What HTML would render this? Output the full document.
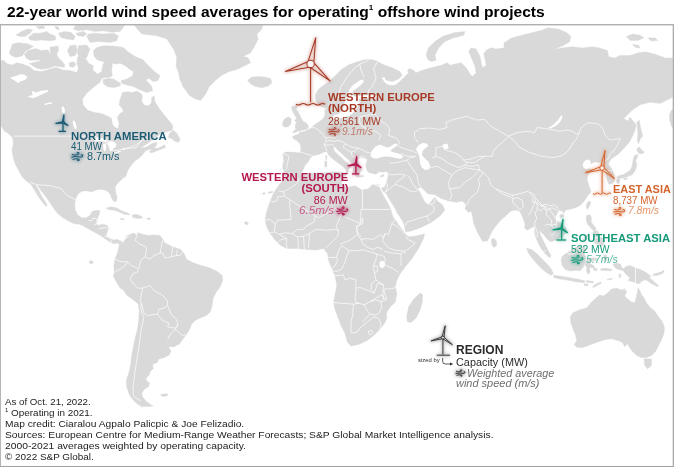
<!DOCTYPE html>
<html><head><meta charset="utf-8">
<style>
html,body{margin:0;padding:0;background:#fff;}
body{width:674px;height:467px;overflow:hidden;position:relative;font-family:"Liberation Sans",sans-serif;}
#title{position:absolute;left:6.9px;top:1.5px;font-size:15.5px;font-weight:bold;color:#000;white-space:nowrap;line-height:20px;transform-origin:0 0;transform:scaleX(1.0050);}
#title sup{font-size:8px;vertical-align:baseline;position:relative;top:-7px;line-height:0;}
svg{position:absolute;left:0;top:0;}
.t{position:absolute;white-space:nowrap;line-height:1;transform-origin:0 0;}
.r{transform-origin:100% 0;}
.b{font-weight:bold;}
.i{font-style:italic;}
.foot{position:absolute;left:5px;font-size:9.9px;color:#222;white-space:nowrap;line-height:1;transform-origin:0 0;}
</style></head><body>
<div id="title">22-year world wind speed averages for operating<sup>1</sup> offshore wind projects</div>
<svg width="674" height="467" viewBox="0 0 674 467">
<defs><clipPath id="c"><rect x="0.8" y="25.3" width="672" height="440.7"/></clipPath>
<filter id="glow" x="-50%" y="-50%" width="200%" height="200%"><feGaussianBlur stdDeviation="1.6"/></filter>
</defs>
<g clip-path="url(#c)">
<path d="M0 61.6 L3.3 59.9 L7.5 64.1 L12.5 64.9 L16.7 62.7 L22.5 64.1 L29.2 66.6 L34.2 70.7 L41.7 71.6 L50.1 69.1 L55.9 67.4 L63.4 69.9 L71 70.7 L76.8 72.4 L78.5 68.2 L76.8 63.2 L77.6 57.4 L80.1 53.2 L83.5 52.7 L85.1 57.4 L88.5 63.2 L93.5 65.7 L92.7 69.9 L92.7 69.8 L97.4 74.2 L101.6 71.7 L102.7 65 L104.9 61.3 L109.9 60.8 L112.4 65 L111.6 70 L112.4 75.9 L109.1 77.5 L104.1 77.5 L101.6 78.4 L99.9 82.5 L94.1 86.7 L86.5 93.4 L82.4 99.2 L83.2 105.1 L87.4 110.1 L94.9 112.6 L101.6 113.4 L107.4 115.9 L111.6 118.4 L112.4 124.3 L114.9 127.6 L118.3 128.4 L119.1 123.4 L117.4 117.6 L119.9 113.4 L123.3 111.8 L122.4 108.4 L119.1 105.1 L119.9 100.1 L121.6 95.1 L122.4 92.6 L127.4 91.7 L132.4 92.6 L136.6 90.9 L140.8 93.4 L142.5 95.9 L141.6 100.9 L144.1 105.1 L148.3 105.9 L151.6 102.6 L151.6 97.6 L154.2 95.9 L155 101.7 L159.2 108.4 L164.2 115.1 L169.2 120.9 L173.3 125.9 L169.8 122 L173.1 127.5 L171.8 130.4 L166 132.1 L160.1 134.2 L155.1 137.6 L150.1 141.7 L145.1 145.1 L140.1 147.9 L145.9 147.2 L151.8 143.7 L156.8 142.1 L156.4 145.4 L153.8 147.6 L157.6 148.4 L161 146.7 L164.6 144.7 L165.5 147.6 L160.1 149.6 L155.9 151.3 L150.9 153.1 L149.3 151.4 L152.6 149.4 L149.3 149.4 L145.9 150.6 L142.6 154.8 L138.7 158.4 L135.4 160.4 L133.1 163.1 L130.4 166.4 L128.1 170.1 L126.2 174.3 L125.1 178 L127 170 L126.1 175 L121.9 179.2 L117.4 183.4 L115.1 187.2 L115.8 192.5 L117.1 197.5 L116.1 201.4 L113.6 201.4 L111.4 197.5 L109.8 193.4 L106.1 190.4 L101.1 189.2 L96.1 190 L91.9 191.7 L86.9 190.9 L82.7 190.9 L78.5 193.4 L75.7 198.4 L74.7 204.2 L75.2 210.1 L77.7 214.7 L81.9 218.1 L86.9 217.6 L90.2 215.1 L91.9 211.7 L95.2 210.6 L99.7 210.6 L99.7 213.4 L97.7 217.6 L96.9 221.8 L96.1 224.3 L98.6 225.1 L103.6 224.3 L107.8 225.9 L108.6 228.4 L106.9 232.6 L106.1 235.9 L109.4 238.4 L113.6 240.1 L116.9 239.3 L120.3 241 L121.9 243.5 L126.1 238.4 L129.5 235.9 L134.5 234.3 L125 236.8 L130 234.3 L133.8 233 L136.3 235 L137.6 232.5 L142.6 234.3 L148.8 235.5 L153.8 235 L160.1 235.5 L162.6 239.3 L165.1 243 L172.6 246.8 L180.1 249.3 L183.9 253 L186.4 259.3 L193.9 263.1 L201.4 265.6 L210.2 268.1 L217.7 271.8 L222.2 275.6 L222.7 280.6 L220.2 286.8 L216.4 291.8 L213.2 298.1 L212.2 305.6 L210.2 311.9 L206.4 315.6 L200.2 318.1 L195.1 320.6 L191.4 324.4 L189.6 329.4 L186.4 334.4 L182.6 339.4 L178.9 344.9 L178.5 344.2 L174.3 346.7 L168.4 346.7 L171 350.9 L169.3 355 L164.3 357.5 L158.4 359.2 L157.6 362.6 L152.6 364.2 L153.4 368.4 L150.1 371.7 L149.2 375.1 L145.9 378.4 L146.7 380.9 L149.7 383.1 L148.4 386.8 L144.2 389.3 L141.7 393.4 L142.6 396.8 L145.9 401 L150.1 404.3 L153.4 406 L148.4 406.5 L141.7 406.8 L136.7 403.5 L132.6 399.3 L129.2 394.3 L126.7 386.8 L126.4 380.1 L129.2 371.7 L130.9 363.4 L131.7 355 L133.4 346.7 L135.1 338.3 L137.6 328.4 L138.7 320 L139.2 311.7 L138.4 304.2 L133.4 300 L126.7 295 L123.4 290 L120 288.1 L116.3 281.8 L113 275.6 L114.5 273.1 L113.8 265.6 L115 259.3 L117.5 253 L118.8 246.8 L121.3 240.5 L122.8 244.3 L120.3 244.8 L116.9 243 L113.6 243.8 L109.4 241.8 L105.2 238.8 L101.1 235.9 L96.9 233.4 L91.9 230.9 L87.7 228.4 L83.5 225.9 L79.4 224.3 L74.4 223.8 L68.5 220.9 L62.7 217.6 L58.5 214.2 L55.6 211.1 L51.3 204.8 L46.3 197.3 L41.3 191.1 L37.6 185.6 L35.1 184.1 L37.1 187.3 L40.1 193.1 L43.1 198.6 L47.1 204.8 L46.3 206.6 L43.1 203.1 L38.8 197.3 L35.1 191.1 L32 186.1 L29.5 183.1 L26.3 181.1 L22.5 177.3 L18.4 170.1 L15 163.4 L13 156.8 L12 150.1 L13.4 143.4 L12.5 137.6 L8.3 133.4 L4.2 130.9 L1.7 126.7 L0 125.9ZM169.3 133.4 L173.5 130.1 L176.8 133.4 L180.2 139.2 L178.5 142.6 L174.3 140.9 L171.8 138.7 L168.5 137.6ZM103.2 79.2 L109.1 78.4 L114.1 79.2 L120.8 83.4 L119.9 85.9 L114.1 87.5 L107.4 86.7 L103.2 83.4ZM106.1 208.1 L111.1 206.7 L116.9 208.1 L121.9 210.9 L127.8 213.1 L130.3 215.1 L124.4 214.2 L118.6 211.7 L113.6 210.1 L108.6 209.7ZM132 215.1 L136.1 214.2 L141.1 215.9 L142.8 218.1 L137.8 218.4 L132.8 217.6ZM120.3 218.4 L124.4 218.7 L122.8 219.9 L120.6 219.4ZM147 218.1 L150.3 218.1 L150.3 219.4 L147 219.4ZM160.4 394.8 L164.3 393.8 L168.4 394.3 L166.8 395.9 L162.6 396.4ZM263.1 24 L261.9 29 L256.9 34 L258.1 39 L254.4 46.5 L250.6 52.8 L243.1 56.5 L248.1 57.8 L250.6 62.8 L245.6 65.3 L238.1 69.1 L229.3 71.6 L221.8 75.3 L215.6 80.3 L209.3 86.6 L205.6 94.1 L200.5 100.4 L195.5 99.1 L189.3 95.4 L183 86.6 L180.5 80.3 L180.2 80.8 L178.5 72.4 L176 65.7 L176.8 57.4 L173.5 49 L166.8 39 L156.8 35.7 L141.8 34 L135.1 26.5 L133.4 24ZM247.6 80.3 L251.9 77.1 L258.1 76.6 L264.4 77.1 L270.7 78.6 L271.9 82.8 L268.2 86.1 L261.9 87.8 L255.6 86.6 L250.6 84.1ZM291.4 107 L295.1 105.4 L297.3 106.5 L296.2 109.7 L298.3 111.8 L298.9 113.4 L300.5 116.7 L302.1 119.9 L304.2 122 L306.9 123.6 L308.5 126.3 L307.4 129 L304.2 130 L299.9 130.6 L295.6 132.2 L292.4 132.7 L294.5 130 L296.7 129.5 L295.1 127.9 L295.6 124.2 L296.7 122 L294.6 120.9 L296.5 118 L295 115.5 L293.5 113 L292 110ZM284.5 119 L287 117.5 L289.2 117.2 L291.4 119.3 L290.8 124.2 L288.1 126.8 L285 127.2 L282.5 125.5 L282.8 122ZM315.9 100.1 L315.1 95.1 L318.4 89.2 L325.1 84.2 L330.9 80.1 L335.9 75 L341.8 69.2 L348.5 65 L355.1 62.5 L363.5 60 L370.2 59.2 L376.8 60.9 L377.3 61.6 L384.8 65.3 L392.3 67.8 L399.8 71.6 L402.3 75.3 L398.6 79.1 L392.3 81.6 L386.1 80.3 L384.8 77.1 L381.1 77.8 L386.1 84.1 L389.8 85.3 L394.8 85.3 L398.6 82.8 L403.6 77.8 L408.6 72.8 L407.4 70.3 L409.1 68.6 L413.6 70.3 L416.1 72.8 L422.4 70.3 L431.1 67.8 L441.2 65.3 L447.4 62.8 L449.9 65.3 L454.9 64.1 L461.2 62.8 L466.2 67.8 L470 74.1 L472.5 76.6 L476.2 72.8 L475 66.6 L472.5 60.3 L468.7 51.5 L471.2 47.8 L476.2 49 L480 56.5 L481.2 62.8 L482.5 67.8 L486.2 65.3 L485 59.1 L483.7 54 L486.2 50.3 L491.2 47.8 L496.2 49 L504 47.8 L504 42.9 L511.6 37.9 L521.7 35.3 L531.7 32.8 L541.8 30.3 L548.1 27.8 L558.2 29 L567 32.8 L570.8 36.6 L569.6 41.7 L563.3 45.4 L554.4 49.2 L562 48 L572.1 46.7 L582.2 48 L592.3 46.7 L599.8 48 L607.4 50.5 L608.6 56.8 L614.9 58 L620 55.5 L630.1 55.5 L637.6 53 L645.2 51.7 L655.3 54.3 L665.4 58 L675.5 58 L675.5 95.9 L667.9 99.6 L660.3 103.4 L650.2 102.2 L640.2 104.7 L632.6 109.7 L627.6 114.8 L623.8 118.6 L627.6 121.1 L630.1 117.3 L635.1 123.6 L636.2 125.4 L635.1 129.8 L633.4 134.3 L631.5 138 L629.5 142 L626.5 145.5 L622.3 150 L618.4 153.9 L614.5 156.7 L611.1 158.9 L609.5 161.7 L608.3 163.9 L609.5 166 L611 167.5 L612.8 171 L614 174.5 L614.8 178.4 L614 181.7 L611.7 184 L609 184.3 L607.3 181 L606.3 176.5 L605.5 172 L604 167 L601 163.5 L598.4 162.5 L595 162 L590.4 163.7 L591 160.9 L587.6 159.2 L584.2 160.9 L582.6 164.2 L583 167.5 L585.9 169.2 L590 168.7 L593.4 170 L590.9 172.5 L588 174.7 L587 179.2 L588.4 184.2 L590 188.4 L591 191.5 L589.5 194 L587.3 196 L585.8 198.9 L582.9 202.6 L580 205.5 L576.4 207.3 L572 208.7 L568.5 209.6 L565.5 210 L563.8 213.2 L562.3 211.2 L560 210.6 L558 211.6 L557.1 213.6 L555.6 216.3 L555.3 219 L557 221 L560 222.5 L563.5 225 L566 228 L566.8 231 L565 234 L561.5 237 L557 239.5 L553.1 241 L550.8 241.8 L549.5 241 L547.7 239.5 L545.4 237 L543.6 234.5 L541.4 232.5 L539.6 231 L538.4 226 L539.2 231 L540.9 236 L543.4 241 L545.9 246 L548.4 251 L550.9 255.2 L549.7 258.1 L545 253.5 L541.7 249.4 L538.4 243.5 L535.9 237.7 L534.2 231 L535.9 234.2 L534.8 229.2 L534.3 225.9 L531.8 227.6 L527.6 230.1 L524.7 228.4 L525.1 224.2 L523.7 220.1 L521.7 215 L519.2 210.9 L515.9 210 L510.9 210.9 L506.7 215 L500.9 220.1 L495.9 225.9 L491.7 231.7 L488.3 239.2 L487.5 240.9 L482.5 241.2 L477.5 232.4 L473.7 223.6 L472.5 216.1 L471.2 211.1 L468.7 212.4 L464.9 208.6 L466.2 204.8 L462.4 201.1 L456.2 202.3 L448.7 201.1 L441.2 198.6 L434.9 194.8 L427.4 193.6 L421.1 187.3 L417.4 188.6 L419.9 192.3 L422.4 197.3 L424.9 202.3 L428.6 204.8 L432.4 199.8 L434.9 197.3 L437.4 201.1 L442.4 204.8 L444.9 209.9 L439.9 216.1 L431.1 222.4 L421.1 227.4 L411.1 231.1 L406.1 232.1 L405.2 230.1 L404.6 226.9 L403.9 223.7 L402.6 221.1 L400.1 217.3 L397.5 213.4 L395.6 209.6 L393 205.1 L389.8 199.9 L387.2 195.4 L385.3 192.2 L385.8 189.5 L384.3 192.5 L381.5 189 L382.5 187.5 L384.5 187.2 L385.6 185 L386.6 181.8 L387.7 178.6 L388.2 175.4 L388.2 174.3 L387.7 172.2 L386.1 171.6 L382.9 172.2 L379.1 171.6 L377.5 173.2 L375.4 174.3 L372.2 173.2 L368.9 172.7 L367.3 171.1 L366.3 167.9 L365.7 164.7 L366.8 161.4 L367.3 159.5 L364.7 158.2 L361.4 157.7 L360.3 157.1 L358.6 158 L357.5 161 L359 164 L360.5 167 L362 170 L360 172.5 L359 175.5 L357 177 L354.5 174.5 L353 171 L353.6 167.1 L352.5 164.4 L350.9 162.3 L347.7 159 L343.9 155.8 L340.2 152.1 L337 149.4 L335.4 146.7 L333.2 147.8 L334.3 151 L337.5 154.2 L341.3 157.4 L345 161.2 L348.8 163.9 L351.4 166 L350.4 167.6 L348.2 169.2 L348.8 171.4 L347.7 173.5 L346.1 173.5 L345.5 169.2 L342.9 166.5 L338.6 163.3 L334.3 160.1 L331 157.4 L328.4 154.8 L326.8 151.5 L324 152.1 L321.9 153.1 L319.7 154.2 L315.4 155.3 L312.8 155.8 L311.2 156.9 L309.6 159 L307.9 162.3 L305.3 164.9 L303.7 168.2 L302.5 171.5 L299.5 174.5 L295 176 L290 176.5 L286.5 178 L284.5 176 L283.5 173 L283.8 170.3 L282.8 168.2 L282.8 164.9 L283.8 160.7 L283.3 156.4 L282.8 153.7 L285.4 152.1 L290.8 152.1 L296.2 152.6 L300.4 153.1 L301 147.8 L299.9 144 L297.2 140.8 L293.5 138.7 L292.5 136.5 L295.6 134.9 L298.9 134 L300 131.5 L302.1 132.2 L305.3 131.1 L308.5 129.5 L311.2 127.9 L313.9 125.2 L317.1 123.1 L320.3 120.9 L323 118.8 L324.6 116.1 L325.1 112.9 L324.6 109.7 L326.5 108.5 L323.5 107.5 L320.3 106 L317 102.7ZM285.1 177.3 L296.8 175 L310.1 173.3 L323.5 172.7 L333.5 171.7 L340.2 172 L343.5 172.7 L344.2 178.3 L341.2 183.4 L346.8 187.4 L355.2 185.7 L361.9 190 L368.5 188.7 L371.9 185 L380.2 185 L372.2 185 L376.4 186.1 L380 187.5 L380.1 189.6 L382.1 192.9 L384 196.7 L386.6 201.2 L389.1 205.7 L391.1 210.2 L392.3 214.7 L393.6 217.9 L396.2 221.1 L398.1 224.3 L400.7 227.6 L403.3 230.8 L404.6 232.7 L406.1 235 L409.4 236.7 L416.1 235.9 L422.8 234.2 L424.4 233.7 L423.6 238.4 L421.1 243.4 L418.6 248.5 L412 258.5 L405.3 266.8 L400.3 273.5 L396.9 280.2 L395.3 286.9 L396.9 293.5 L395.3 301.9 L390.3 306.9 L386.9 311.9 L386.2 318.6 L387.3 316.8 L384.8 323.1 L379.8 329.4 L373.6 335.6 L367.3 340.6 L358.5 344.4 L351 346.1 L347.3 341.9 L344.8 333.1 L341 325.6 L337.3 315.6 L338.5 318.6 L335.2 310.2 L333.5 301.9 L335.2 293.5 L336.8 285.2 L335.2 276.8 L331.8 268.5 L328.5 260.2 L327.5 253.5 L323.5 248.5 L316.8 250.1 L306.8 249.5 L296.8 248.5 L286.7 248.5 L280.1 245.1 L275.1 240.1 L270.1 233.4 L266.7 226.8 L265 220.1 L266.7 211.7 L269.4 203.4 L273.4 193.4 L280.1 183.4ZM406.6 316.8 L408.6 306.8 L413.6 299.3 L419.9 293.1 L422.4 294.3 L422.4 301.8 L419.9 310.6 L416.1 318.1 L411.1 322.6 L407.4 321.8ZM380.2 175.9 L383.9 174.3 L383.4 176.4 L380.7 177ZM357 175.8 L363.5 175.5 L363.5 176.8 L357 177ZM341.5 173.5 L346.5 172.8 L345.8 176.5 L342.5 175.8ZM324.6 161.2 L326.7 161 L327 166.5 L325 167.2ZM325.6 155.8 L326.7 155.3 L327 159 L326 160.1ZM426.1 54 L428.6 47.8 L434.9 41.5 L442.4 36.5 L453.7 32.8 L464.9 31.5 L463.7 35.3 L453.7 37.8 L444.9 41.5 L438.7 47.8 L434.9 55.3 L436.2 60.3 L431.1 61.6 L427.4 59.1ZM491.4 239.2 L494.2 238.4 L496.7 241.8 L496.4 245.9 L493.7 247.6 L491.7 244.3ZM570.3 316.8 L572.9 312.8 L579.8 309.8 L586.8 307.8 L590.8 302.9 L594.8 298.9 L599.7 294.9 L603.7 295.9 L608.7 291.9 L611.7 288.9 L616.7 288.3 L621.6 289.9 L624.6 288.9 L626.6 291.9 L624.6 295.9 L627.6 298.9 L631.6 301.9 L634.6 302.9 L636.6 295.9 L638 287.9 L639.6 289.9 L641.6 294.9 L643.5 296.9 L646.5 302.9 L650.5 307.8 L654.5 310.8 L658.5 316.8 L662.5 321.8 L664.5 327.7 L663.9 333.7 L661.5 339.7 L658.5 345.7 L655.5 351.6 L651.5 355.6 L646.5 357.6 L641.6 357.6 L636.6 355.6 L632.6 351.6 L629.6 347.7 L627.6 343.7 L624.6 346.7 L622.6 342.7 L618.7 340.7 L611.7 338.7 L604.7 339.7 L598.7 341.7 L592.8 343.7 L587.8 345.7 L581.8 347.7 L576.8 347.3 L574.2 344.7 L576.8 340.7 L575.4 334.7 L572.9 328.7 L570.9 322.8ZM643.9 358.9 L651.5 358.9 L651.5 365.2 L647.7 368.9 L644.7 365.2ZM613.1 264.3 L616.8 263.1 L620.5 264.3 L621.8 267.4 L623.6 268.7 L626.1 266.2 L629.9 265.6 L633 266.8 L635.5 268.1 L639.9 269.3 L644.8 271.8 L648.6 274.3 L651.1 276.8 L648.6 277.4 L652.3 279.9 L655.4 283 L658.5 285.5 L657.9 286.8 L654.2 284.9 L650.4 283 L647.3 280.5 L644.8 279.9 L641.7 281.2 L639.9 283.6 L636.7 283.6 L633.6 281.8 L630.5 281.2 L628 280.5 L629.9 278 L627.4 275.5 L624.9 273.1 L623 270.6 L619.9 269.9 L616.8 268.7 L614.3 266.8ZM652.9 274.3 L657.3 273.1 L661.7 271.8 L663.5 269.9 L664.2 271.8 L661 274.3 L656.7 275.5 L653.6 275.5ZM526.7 248.5 L531.7 249.4 L536.7 253.5 L541.7 258.6 L546.7 263.6 L550.9 268.6 L553.4 273.6 L550.9 275.2 L546.7 272.7 L541.7 268.6 L536.7 263.6 L531.7 257.7 L528.3 252.7ZM553.4 275.2 L560.1 276.1 L568.4 277.4 L576.8 279.1 L585.1 280.8 L584.3 282.8 L576.8 281.9 L568.4 280.3 L560.1 279.1 L554.2 277.8ZM561.1 259.4 L562.6 256.1 L565.9 253.5 L570.1 251 L575.1 247.7 L580.1 245.2 L584.3 245.7 L585.9 249.4 L584.3 253.5 L585.9 257.7 L585.1 261.9 L583.4 266.9 L580.1 270.7 L575.9 270.2 L570.1 271.1 L565.1 269.4 L562.1 265.2ZM585.9 261.9 L588.4 258.6 L593.5 257.7 L597.6 258.6 L596.8 260.2 L591 261.1 L590.1 263.6 L594.3 266.1 L595.1 268.6 L591.8 267.7 L589.3 266.9 L590.1 271.9 L588.4 274.4 L586.4 271.1 L586.8 266.9 L584.8 265.2ZM592.4 286.8 L596 283.8 L600.8 282 L601.4 283.2 L597.2 285.6 L593.6 287.4ZM586.5 280.6 L593.5 281.6 L593.5 283 L586.5 282.2ZM584 283.8 L588.2 284.2 L588 285.8 L584.2 285.4ZM603.8 255.2 L606.3 254.4 L607.2 259.4 L605.1 261.9 L604.1 258.6ZM600.6 268.7 L606 268.3 L611.8 269.3 L611.5 270.8 L605 270.6 L600.8 270.3ZM593.5 268.7 L597 268.5 L597.2 270.6 L593.8 270.6ZM586.5 215.5 L590 214.8 L591.5 218 L591 222 L593.5 225 L596 228.5 L595 231 L592 229.5 L590 226.5 L587.5 224.5 L586.2 220ZM595.5 238.5 L599 237 L602.5 238 L604.5 241 L603.5 245.5 L600.5 246.5 L598 244 L595 243.5 L594.5 240.5ZM593 231.5 L597 230.5 L599.5 234 L598 237.5 L594.5 236.5 L593 234ZM582 240.5 L588 233.5 L589 234.3 L583 241.3ZM588.8 201.1 L590.6 201.8 L590.2 204.7 L588.4 208 L587.3 209.5 L586.2 206.9 L586.6 204ZM559.8 215 L562 213.9 L564 214.8 L563.6 217 L561.5 218.2 L560 217.2ZM637.8 154.5 L637.2 158 L635.6 160.6 L636.7 163.9 L636.2 167.8 L634.5 171.7 L632.3 174.5 L628.9 176.2 L625 177.3 L621.1 178.4 L617.8 178.4 L616.7 177.3 L619.5 175.6 L623.4 174.5 L627.3 172.3 L630.6 169.5 L632.3 165.6 L632.8 161.7 L633.4 158.4 L634.5 155.6ZM636.7 148.9 L639 146.7 L642.3 150.6 L644.5 152.2 L641.7 153.9 L639 153.4 L637.3 151.1ZM616.7 179 L619.5 179 L620 181.7 L618.4 184 L616.7 182.8ZM636.7 122 L639.5 120.4 L640.1 125.4 L641.7 132.1 L642.8 136.5 L641.2 137.6 L639.5 141 L638.4 144 L637.3 139.9 L637.8 134.3 L637.3 127.6ZM676 130 L672.9 128.7 L671.2 125.4 L669.6 119.8 L669.6 114.3 L671.2 110.4 L676 107ZM626.3 36.6 L632.6 34.1 L640.2 35.3 L643.9 37.9 L637.6 40.4 L630.1 40.4ZM647.7 37.9 L655.3 37.9 L657.8 40.4 L651.5 41.1ZM632.6 44.2 L638.9 45.4 L640.2 48 L635.1 47.2ZM9.2 53.2 L12.5 44 L18.4 42.7 L27.5 43.7 L33.4 46.5 L29.2 49 L25 51.5 L22.5 55.7 L15.9 57.4 L11.7 55.7ZM24.3 54.2 L28 50.5 L35.5 48.6 L41.1 50.5 L48 49.8 L50.5 54.8 L49.9 47.3 L58 46.1 L58.6 50.5 L56.7 54.2 L58.6 57.9 L62.3 61.7 L64.8 64.8 L64.2 67.3 L54.8 66 L49.9 67.9 L42.4 69.2 L37.4 68.5 L33 66 L29.3 63.5 L39.9 61.1 L40.5 59.8 L29.9 60.4 L26.2 57.9ZM69.2 62.9 L73.5 61.7 L76 64.2 L73.5 67.3 L69.8 66.7ZM15.9 34.9 L21.7 31.5 L27.5 29 L32.6 29.8 L30.1 33.2 L25 36.5 L20 36.5ZM28.4 37.4 L33.4 33.2 L40.1 33.2 L46.7 31.5 L50.1 34 L55.1 35.7 L55.9 39.9 L50.1 40.7 L41.7 39.9 L35.9 40.7 L30.1 39.9ZM58.4 33.2 L64.3 31.5 L71 32.3 L75.1 36.5 L73.5 39.9 L66.8 39 L60.9 37.4ZM35.9 26.5 L43.4 25.7 L45.1 28.2 L39.2 29ZM55.1 26 L58.4 27 L59.3 29.8 L55.9 29ZM76 33.2 L83.5 31.5 L86.8 34 L83.5 36.5 L77.6 35.7ZM86.7 36.5 L88.4 34 L95 33.2 L103.4 34 L113.4 33.2 L118.4 35.7 L116.7 40.7 L110.1 42.4 L98.4 41.5 L90 42.4ZM76.7 24 L86.7 24 L101.7 24 L118.4 24 L125.1 24.8 L120.1 31.5 L111.7 32.3 L103.4 30.7 L95 31.5 L86.7 29.8 L78.3 30.7 L73.3 29ZM78.3 45.7 L86.7 44.9 L90 49 L86.7 57.4 L81.7 59.9 L77.5 54.1ZM70 45.7 L75.8 44.9 L77.5 50.7 L75 55.7 L70 56.6 L67.5 50.7ZM93.4 50.7 L96.7 47.4 L103.4 45.7 L113.4 46 L123.4 47.4 L127.6 51.5 L135.1 56.6 L143.5 59.9 L146.8 64.1 L153.5 70.7 L160.2 75.8 L157.6 80.8 L153.5 81.6 L148.5 78.3 L146 79.9 L151.8 86.6 L152.6 90.8 L146.8 92.4 L140.1 89.9 L133.4 86.6 L126.8 84.9 L121.8 83.3 L120.9 80.8 L126.8 79.1 L132.6 75.8 L133.4 71.6 L129.3 69.1 L125.1 65.7 L120.1 63.2 L115.9 64.1 L110.9 63.2 L106.7 62.4 L102.6 61.6 L97.5 59.9 L94.2 56.6ZM619 274 L620.5 274 L620.8 277.5 L619.2 277.5ZM606.8 279.6 L610 278.4 L613 278.6 L610 280ZM89.5 261 L92 260.5 L93.5 262.5 L91 264 L89.5 263ZM262.5 193 L265 192.6 L265.2 194 L263 194.4ZM268 192.2 L272.5 191.2 L272.8 192.4 L268.5 193.4ZM244.5 222 L246.5 221.5 L248.5 223.5 L247 225 L245 224ZM623.9 178.4 L627.3 177.8 L626.7 179.5 L623.9 179.8Z" fill="#d9d9d9" stroke="#d9d9d9" stroke-width="0.4" stroke-linejoin="round"/>
<path d="M10 77.8 L16.7 75.8 L20.9 74.1 L25 74.9 L27.5 77.1 L25 79.9 L20 81.6 L18.4 83.3 L15 80.8 L11.7 79.1ZM27.5 96.6 L32.6 95 L31.7 90.8 L35.9 92.4 L41.7 90.8 L47.6 89.9 L48.4 91.6 L42.6 94.1 L37.6 96.6 L32.6 98.3ZM370.4 155.9 L371.7 150.9 L375.1 146.7 L379.2 144.7 L383.7 145.9 L386.7 147.5 L390.1 146.7 L391.8 145.4 L395.1 143.4 L397.6 144.2 L395.4 146.7 L392.1 149.2 L390.1 150.9 L394.3 152.5 L398.4 153.4 L401.8 155 L403.1 157.5 L400.1 158.7 L395.1 158 L390.1 156.7 L385.1 156.4 L380.1 157.5 L375.9 158.7 L372.6 158ZM416 149.2 L418.5 145 L422.6 143 L426.8 143.4 L428.5 145.9 L425.1 148.4 L422.6 150.9 L421.8 155 L425.1 158.4 L428.5 161.7 L430.2 165.9 L429.3 169.2 L425.1 170.1 L421.8 167.6 L420.1 163.4 L419.8 158.4 L418.5 154.2ZM442.4 144.8 L447.4 143.5 L448.7 148.5 L444.2 149.8ZM548.1 127.9 L553.2 124.9 L558.2 119.8 L561.5 114.8 L562.5 117.3 L560 122.3 L555.7 126.1 L550.6 128.6ZM362.5 79.5 L364 81.5 L361 85 L357 88 L353 91 L352 94 L354 96.5 L358 96 L362 95.5 L370 95 L377 95.5 L377 97.5 L370 97.5 L363 98 L359 99 L359.5 103 L358 107 L355 110 L352.5 113.5 L349 116 L344 117.5 L339 118.5 L335 119.5 L333 118 L334 115 L337 114.5 L340 113 L343 109 L344.5 104 L345.5 99 L348 94.5 L349 90 L352 86 L356 83 L359.5 80.5ZM379.8 261.5 L383.1 260.7 L385.1 263.2 L384.3 267 L381.4 268.2 L379.4 265.7ZM103.1 143.8 L105.4 143.4 L106.3 146.5 L105.8 150 L104.7 151.8 L103.6 150 L103.1 146.9ZM107.3 142 L110.7 141.1 L114.3 142 L116.5 144.3 L115.6 147.4 L113.4 148.3 L112.5 150.5 L110.7 151.4 L109.4 149.2 L108.9 146 L107.6 144.3ZM113.8 152.7 L116.9 151.8 L120.5 150.5 L121 151.4 L117.8 152.7 L114.7 153.6ZM121.8 149.3 L125 148.4 L125.9 149.3 L122.7 150.2ZM93 139.5 L97 137.5 L102 138 L106 139.5 L108.5 141.5 L104 141.8 L100 141 L96 141.5ZM72.5 121 L74.5 120.5 L76 124 L76.8 128.5 L75 129.5 L73.5 126ZM61.5 107 L63.5 106.5 L65 110 L64.5 114 L62.5 113.5 L62 110ZM44 104 L48 102.8 L52 102.3 L52 103.5 L48 104.3 L45 105Z" fill="#fff"/>
<path d="M137.6 233 L135.1 240.5 L140.1 244.3 L146.3 246.8 L146.3 251.8 L145.1 256.8M145.1 256.8 L150.1 259.3 L153.8 255.5 L160.1 253 L161.3 246.8 L162.6 240.5M160.1 253 L162.6 253 L165.1 258 L171.4 256.8 L176.4 255.5 L180.1 255.5 L183.1 251.8M172.6 246.8 L171.4 256.8M177.6 249.3 L176.4 255.5M145.1 256.8 L141.3 259.3 L138.8 268.1 L137.6 271.8M115 259.3 L121.3 261.8 L127.5 261.8 L131.3 265.6 L137.6 268.1M115.5 271.8 L120 269.3 L125 265.6 L127.5 261.8M137.6 271.8 L132.5 274.3 L130 279.3 L133.8 284.3 L137.6 288.1 L142.6 288.1M142.6 288.1 L141.3 294.3 L140.1 300.6 L141.3 303.1M142.6 288.1 L150.1 285.6 L153.8 290.6 L161.3 294.3 L167.6 300.6 L167.6 305.6M141.3 303.1 L143.8 313.1 L147.6 315.6 L153.8 314.4 L157.6 314.4M167.6 305.6 L163.8 308.1 L158.8 309.4 L157.6 314.4M157.6 314.4 L162.6 320.6 L168.9 323.1 L167.6 326.9 L175.1 328.2 L178.1 324.4 L176.4 319.4 L171.4 314.4 L167.6 305.6M178.1 324.4 L175.1 329.4 L170.1 334.4 L167.6 339.4M175.1 329.4 L182.6 335.7 L186.4 334.4M141.3 303.1 L140.9 307 L141.7 313 L143.8 317.5 L142.6 323 L140.9 331 L139.8 340 L138.5 350 L136.5 362 L134.5 375 L133 388 L133.5 396 L138 399 L141 401M14 136.1 L40 136.1 L70 136.1 L95 136.3 L100 138.5 L105 141.5 L108 145 L111 149 L114 150.5 L119 150 L124 148.5 L130 148 L136 147.8 L139 144 L141 140.5 L144 139.5M30 182.3 L37.6 184.8 L50 185.6 L61.3 188.6 L66.3 194.8 L75.1 199.8M278.5 191 L283.5 191.9 L284.4 196 L277.7 196.9 L276.9 201 L271.9 201.9 L270.7 201M283.5 191.9 L289.4 188.5 L296.1 184.3 L298.6 181 L297.7 177.7M284.4 196 L291.9 201 L304.4 209.4 L315.3 215.7 L318.6 217.7M318.6 217.7 L329.5 211.9 L335.8 208.1M290.2 199.9 L289.4 202.7 L291.1 219.4 L277.7 220.2 L275.2 224.4M265.2 220.2 L270.2 219.4 L275.2 224.4 L274.4 231.9M315.3 215.7 L314.4 221.9 L306.1 226.1 L303.6 229.4 L297.7 229.4 L291.9 233.6M341.1 215.2 L336.1 226.1 L338.6 231.1M335.8 208.1 L341.1 215.2 L360.3 223.6 L362.8 217.7M309.4 233.6 L312.8 231.1 L316.1 229.4 L326.1 230.3 L334.5 229.4 L338.6 231.1M362.8 217.7 L362.8 223.6 L356.2 226.1 L357.8 232.8 L361.2 236.9M338.6 231.1 L337.8 236.1 L331.1 242.8 L326.1 247.8M286.9 238.6 L286.1 244.4 L287.7 249.5M297.7 236.9 L298.6 249.5M303.6 236.1 L304.4 249.5M309.4 233.6 L308.6 247.8M291.9 233.6 L297.7 236.9 L303.6 236.1 L309.4 233.6M266.9 233.6 L274.4 231.9 L279.4 234.4 L286.9 238.6 L281 239.4 L277.7 242.8M279.4 234.4 L284.4 232.8 L291.9 233.6M362.5 184.3 L362.5 209.4M362.5 209.4 L390.1 209.4M362.5 209.4 L360.9 209.4 L360.9 215.2M360.9 215.2 L360 224.4 L356.7 227.8 L357.5 234.4 L360.9 239.4M360.9 239.4 L366.7 238.6 L373.4 239.4 L380.9 234.4 L382.6 237.8 L385.1 233.6M395.1 219.7 L391.8 223.6 L390.1 229.4 L388.4 234.4 L385.1 233.6M391.8 223.6 L396.8 226.1 L402.6 231.1 L404.3 233.6M405.9 236.1 L407.6 239.4 L415.1 242.8 L410.1 247.8 L405.1 251.1M385.1 233.6 L382.6 241.1 L388.4 247.8 L395.1 250.3 L405.1 251.1 L404.3 254M405.4 226.1 L406.8 221.9 L413.5 220.2 L420.1 217.7 L426.8 216.1 L433.5 211.9 L434.3 207.7 L431 204.4M426.8 216.1 L429.3 221.9M426.8 202.7 L431 204.4 L434.3 202.7 L435.2 198.5M385.9 191.9 L390.1 188.5 L395.1 184.3 L402.6 186.9 L410.1 191 L416 191.9 L417.6 190.2M417.6 190.2 L411.8 182.7 L410.1 177.7 L406.8 175.2M385.9 191.9 L387.6 186 L386.7 182.7M395.1 184.3 L397.6 181 L403.4 177.7 L405.1 175.2M388.4 174.3 L393.4 174.7 L400.1 174 L405.1 175.2M357.5 234.4 L350 240.3 L343.3 242.8 L340 244.4M360.9 239.4 L363.4 244.4 L368.4 247.8 L373.4 249.5 L377.6 247 L382.6 249.5M333.4 274.9 L335.9 275.7 L343.4 274.9 L345 279.9 L350.1 278.2 L355.9 279.9 L355.9 288.2 L360.1 287.4 L364.2 289.1 L368.4 290.7 L374.3 293.2 L373.4 291.6 L370.9 289.1 L371.8 283.2 L375.9 279.9 L374.3 272.4 L373.4 265.7 L375.9 259.9 L376.8 254 L369.2 251.5 L363.4 249.8 L355.9 250.7 L349.2 250.7 L346.7 255.7 L345 262.4 L341.7 269 L336.7 271.5 L332.5 270.7M326.7 257.4 L336.7 257.4 L337.5 260.7 L335 265.7 L331.7 269M336.7 257.4 L338.4 250.7 L341.7 245.7 L349.2 250.7M331.7 302.4 L341.7 303.3 L353.4 304.1 L359.2 303.3M355.9 288.2 L355.9 292.4 L355.1 297.4 L355.9 302.4 L359.2 303.3M359.2 303.3 L364.2 304.9 L370.1 301.6 L375.1 298.3 L381.8 294.9 L383.4 297.4M374.3 293.2 L377.6 283.2 L383.4 284.9 L375.9 279.9M353.4 304.1 L352.6 315.8 L350.9 322M364.2 304.9 L366.7 309.9 L370.1 314.1 L365.1 319.1 L362.6 322M370.1 301.6 L375.9 299.9 L380.9 301.6 L381.8 307.4 L379.3 312.4 L375.9 315 L370.1 314.1M383.4 297.4 L382.6 301.6 L380.9 301.6M384.3 289.1 L391.8 288.7 L398.5 286.6M385.1 264.9 L393.5 269 L398.5 272.4M376.8 254 L384.3 256.5 L385.1 260.7 L383.4 267.4M401 265.7 L401 254 L403.5 251.5M384.3 251.5 L393.5 253.2 L401 254M383.4 284.9 L384.3 292.4 L386.8 299.1 L385.1 300.8 L382.6 294.1 L383.4 289.1M373.4 265.7 L377.6 266.5 L377.6 271.5 L374.3 272.4M351 321.8 L351 333.1 L357.3 331.9 L361 326.9 L367.3 321.8 L373.6 316.8 L378.6 318.1 L381.1 324.3M368 331.9 L371.1 330.1 L373.1 332.6 L370.1 335.1 L368 331.9M381.1 324.3 L379.8 329.4 L382.3 330.6M418.3 142.6 L414.5 137.6 L414.5 132.5 L419.5 128.8 L429.6 128 L439.6 129.5 L447.1 127.5 L445.8 122.5 L453.3 119.5 L467.1 116.3 L475.9 120 L484.6 119.5 L490.9 126.3 L499.7 131.3 L508.4 136.3M508.4 136.3 L502.2 142.6 L497.2 146.3 L493.4 151.3 L492.2 156.3 L484.6 156.3M508.4 136.3 L517.2 132.5 L527.2 131.3 L534.7 132.5 L537.2 127.5 L547.2 128.8 L560 131.3M508.4 136.3 L514.7 141.3 L519.7 147.6 L529.7 152.6 L542.2 156.3 L552.2 157.6 L560 156.3M432.1 158.1 L435.8 156.3 L435.8 147.6 L442.1 146.3 L445.8 150.1 L454.6 152.6 L460.9 156.3 L463.4 160.1 L472.1 158.8 L478.4 156.3 L484.6 156.3M463.4 160.1 L467.1 162.6 L474.6 162.6 L478.4 160.1 L484.6 156.3M464.6 165.1 L472.1 166.3 L478.4 165.1 L479.6 170.1M435.8 156.3 L442.1 158.8 L449.6 163.8 L458.3 167.6 L464.6 165.1 L467.1 162.6M429.6 167.6 L437.1 166.3 L445.8 171.4 L452.1 175.1 L455.8 171.4 L464.6 167.6 L472.1 168.9 L479.6 170.1M452.1 175.1 L448.3 182.6 L449.6 188.9 L452.1 195.1 L449.6 200.2M449.6 188.9 L459.6 187.6 L465.9 181.4 L472.1 177.6 L477.1 172.6 L479.6 170.1 L483.4 172.6M467.1 205.2 L469.6 198.9 L477.1 192.6 L479.6 185.1 L478.4 178.9 L483.4 172.6M483.4 172.6 L488.4 177.6 L490.9 185.1 L495.9 188.9 L504.7 192.6 L512.2 195.1 L519.7 193.9 L527.2 191.4 L533.5 193.9 L536 198.9M495.9 188.9 L502.2 193.9 L512.2 197.6 L513.4 195.1M512.2 198.9 L517.2 197.6 L522.2 200.2 L523.4 206.4 L519.7 210.2 L517.2 206.4 L513.4 203.9 L512.2 198.9M536 198.9 L533.5 205.2 L531 211.4 L528.5 215.2M536 198.9 L542.2 205.2 L547.2 210.2 L552.2 207.7 L557.2 210.2 L560 211.4M407 160.1 L410.8 166.3 L417 175.1 L418.3 182.6 L420.8 187.6M400.8 153.8 L407 156.3 L415.8 156.3 L409.5 158.1 L407 160.1 L397 162.6 L389.5 163.1M398.3 146.3 L404.5 148.8 L413.3 151.3 L417 153.8M282.8 153.7 L287 154.8 L289.2 156.9 L288.1 160.7 L287 164.9 L287 168.2 L285.4 170.3M301 152.1 L305.8 153.7 L311.2 155.3 L312.8 155.8M327.2 151 L325.6 147.8 L324 144.6 L326.2 141.4 L325.6 138.1 L324 136 L322 133 L318 130 L314.5 127.5 L311.5 127.8M326.2 141.4 L330 140.5 L334 141.5 L338 140.5 L342 141.5 L345 143.5M324 144.6 L328 145.5 L331 144 L334.5 146.5M325.6 138.1 L330 137 L334 138.5 L337 136.5 L336 133 L339 130.5M377.3 61.6 L373.6 69.1 L376.1 77.8 L372.3 86.6 L368.5 90.3M371.1 58.3 L366 61.6 L359.8 64.1 L354.8 67.8M359.8 64.1 L361 70.3 L364 77.1M354.8 67.8 L347.3 76.6 L341 86.6 L338.5 96.6 L334.7 101.6M368.5 90.3 L369.8 99.1 L373.6 106.6 L374.8 114.1 L379.8 120.4 L386.1 124.2 L389.8 129.2 L388.6 135.4 L396.1 137.9 L399.8 142.9 L396.1 146.7M374.8 114.1 L366 115.4 L359.8 117.1 L359 121.6 L362.3 126.7M362.3 126.7 L368.5 129.2 L376.1 131.7 L381.1 135.4 L378.6 139.7M345 143.5 L349 146 L353 147.5 L358 148 L363 150 L367 152.5 L372 153M345 143.5 L343 147 L347 150 L351 152 L355 151 L358 148M351 152 L352 156 L356 158 L360 156.5 L364 157M364 157 L366 159.3M125.9 148.9 L130.3 147.1 L134.8 145.3 L139.2 142.7 L142.8 139.5M88.6 220.4 L91.9 220.9 L92.7 218.4 L96.1 218.4 L96.9 221.8M93.6 225.4 L96.9 223.4 L99.1 225.4M98.6 228.8 L104.4 227.6 L108.6 228.4M104.4 235.9 L108.1 237.1M110.3 239.8 L111.9 242.8M121.9 243.5 L123.6 240.1M560 131.3 L566 130 L572 131 L576.5 134 L579.3 132.8 L581 128 L583.7 125.5M560 156.3 L566 153 L570 148 L573 143 L576.4 139 L579.3 132.8M583.7 125.5 L588.1 122.6 L598.3 124 L602.6 128.4 L605.5 135.7 L609.9 140.1 L620.1 138.6 L617.2 145.9 L612.8 151.7 L609.9 154.6 L608 159M608 159 L604 161.5 L600 163 L598.4 162.5M605.5 172 L609 170.5 L612.5 170.8M635.5 264.5 L635.5 283.5M537.6 208.4 L535.1 213.4 L536.8 218.4 L534.3 223.4 L535.9 228.4 L537.6 233.4 L536.8 237.6M537.6 208.4 L540.9 210.9 L543.4 208.4 L546.8 210.9 L545.9 215 L549.3 217.5 L551.8 220.9 L551 225.1M540.9 205.9 L545.9 206.7 L550.1 210 L553.5 215 L556.8 220.1 L556 224.2 L551 225.1M544.3 225.9 L546.8 224.2 L551 225.1 L553.5 227.6 L556 229.2M556 224.2 L556.8 229.2 L554.3 232.6 L551.8 235.1 L550.1 233.7M536.8 202.5 L540.9 205.9 L545.9 204.2 L550.1 205.9 L554.3 205 L558.5 208.4M530.1 193.3 L533.4 197.5 L532.6 201.7 L536.8 202.5 L537.6 208.4M541 250.5 L544 251.5 L546 250.5M566 252 L570 254.5 L575 253 L579 251 L581.5 248 L583.5 245.5" fill="none" stroke="#fff" stroke-width="0.7" stroke-linejoin="round"/>
</g>
<rect x="0.2" y="24.75" width="673.1" height="441.8" fill="none" stroke="#a3a3a3" stroke-width="1.2"/>

<g filter="url(#glow)" opacity="0.28"><path d="M63.66 121.84L63.90 115.00L62.47 121.69" fill="none" stroke="#1b5b73" stroke-width="3.5" stroke-linejoin="round"/><path d="M62.37 121.79L55.90 123.40L62.56 122.98" fill="none" stroke="#1b5b73" stroke-width="3.5" stroke-linejoin="round"/><path d="M63.12 123.10L67.80 125.50L63.78 122.10" fill="none" stroke="#1b5b73" stroke-width="3.5" stroke-linejoin="round"/><circle cx="63" cy="122.3" r="0.9" fill="#fff" fill-opacity="0.6" stroke="#1b5b73" stroke-width="3.5"/><path d="M63 123.2V131.2" stroke="#1b5b73" stroke-width="3.5" fill="none"/><path d="M58.5 131.4H66" stroke="#1b5b73" stroke-width="3.5" fill="none"/></g><path d="M63.66 121.84L63.90 115.00L62.47 121.69" fill="none" stroke="#1b5b73" stroke-width="1.3" stroke-linejoin="round"/><path d="M62.37 121.79L55.90 123.40L62.56 122.98" fill="none" stroke="#1b5b73" stroke-width="1.3" stroke-linejoin="round"/><path d="M63.12 123.10L67.80 125.50L63.78 122.10" fill="none" stroke="#1b5b73" stroke-width="1.3" stroke-linejoin="round"/><circle cx="63" cy="122.3" r="0.9" fill="#fff" fill-opacity="0.6" stroke="#1b5b73" stroke-width="1.3"/><path d="M63 123.2V131.2" stroke="#1b5b73" stroke-width="1.3" fill="none"/><path d="M58.5 131.4H66" stroke="#1b5b73" stroke-width="1.3" fill="none"/>

<g filter="url(#glow)" opacity="0.28"><path d="M313.87 62.28L315.70 37.80L308.18 61.17" fill="none" stroke="#a63a25" stroke-width="3.25" stroke-linejoin="round"/><path d="M307.65 61.75L285.40 71.40L309.30 67.31" fill="none" stroke="#a63a25" stroke-width="3.25" stroke-linejoin="round"/><path d="M310.36 67.54L330.00 80.90L314.18 63.18" fill="none" stroke="#a63a25" stroke-width="3.25" stroke-linejoin="round"/><circle cx="310.6" cy="63.9" r="3.7" fill="#fff" fill-opacity="0.6" stroke="#a63a25" stroke-width="3.25"/><path d="M310.6 67.6V102.2" stroke="#a63a25" stroke-width="3.25" fill="none"/><path d="M295.9 104.2q2.43 1.5 4.87 0q2.43 -1.5 4.87 0q2.43 1.5 4.87 0q2.43 -1.5 4.87 0q2.43 1.5 4.87 0q2.43 -1.5 4.87 0" stroke="#a63a25" stroke-width="3.25" fill="none"/></g><path d="M313.87 62.28L315.70 37.80L308.18 61.17" fill="none" stroke="#a63a25" stroke-width="1.05" stroke-linejoin="round"/><path d="M307.65 61.75L285.40 71.40L309.30 67.31" fill="none" stroke="#a63a25" stroke-width="1.05" stroke-linejoin="round"/><path d="M310.36 67.54L330.00 80.90L314.18 63.18" fill="none" stroke="#a63a25" stroke-width="1.05" stroke-linejoin="round"/><circle cx="310.6" cy="63.9" r="3.7" fill="#fff" fill-opacity="0.6" stroke="#a63a25" stroke-width="1.05"/><path d="M310.6 67.6V102.2" stroke="#a63a25" stroke-width="1.05" fill="none"/><path d="M295.9 104.2q2.43 1.5 4.87 0q2.43 -1.5 4.87 0q2.43 1.5 4.87 0q2.43 -1.5 4.87 0q2.43 1.5 4.87 0q2.43 -1.5 4.87 0" stroke="#a63a25" stroke-width="1.05" fill="none"/>

<g filter="url(#glow)" opacity="0.28"><path d="M356.55 163.73L356.70 156.70L355.36 163.60" fill="none" stroke="#b3194f" stroke-width="3.5" stroke-linejoin="round"/><path d="M355.24 163.73L348.30 165.90L355.50 164.90" fill="none" stroke="#b3194f" stroke-width="3.5" stroke-linejoin="round"/><path d="M356.01 165.00L360.90 167.60L356.68 164.01" fill="none" stroke="#b3194f" stroke-width="3.5" stroke-linejoin="round"/><circle cx="355.9" cy="164.2" r="0.9" fill="#fff" fill-opacity="0.6" stroke="#b3194f" stroke-width="3.5"/><path d="M355.9 165.1V173.7" stroke="#b3194f" stroke-width="3.5" fill="none"/><path d="M352 173.9H359.2" stroke="#b3194f" stroke-width="3.5" fill="none"/></g><path d="M356.55 163.73L356.70 156.70L355.36 163.60" fill="none" stroke="#b3194f" stroke-width="1.3" stroke-linejoin="round"/><path d="M355.24 163.73L348.30 165.90L355.50 164.90" fill="none" stroke="#b3194f" stroke-width="1.3" stroke-linejoin="round"/><path d="M356.01 165.00L360.90 167.60L356.68 164.01" fill="none" stroke="#b3194f" stroke-width="1.3" stroke-linejoin="round"/><circle cx="355.9" cy="164.2" r="0.9" fill="#fff" fill-opacity="0.6" stroke="#b3194f" stroke-width="1.3"/><path d="M355.9 165.1V173.7" stroke="#b3194f" stroke-width="1.3" fill="none"/><path d="M352 173.9H359.2" stroke="#b3194f" stroke-width="1.3" fill="none"/>

<g filter="url(#glow)" opacity="0.28"><path d="M603.91 166.90L605.00 150.60L600.75 166.38" fill="none" stroke="#d5632b" stroke-width="3.2" stroke-linejoin="round"/><path d="M600.34 166.83L585.60 172.60L601.20 169.91" fill="none" stroke="#d5632b" stroke-width="3.2" stroke-linejoin="round"/><path d="M602.11 170.11L614.60 178.70L604.19 167.68" fill="none" stroke="#d5632b" stroke-width="3.2" stroke-linejoin="round"/><circle cx="602.1" cy="168" r="2.3" fill="#fff" fill-opacity="0.6" stroke="#d5632b" stroke-width="3.2"/><path d="M602.1 170.3V192.8" stroke="#d5632b" stroke-width="3.2" fill="none"/><path d="M593 193.6q1.52 1.5 3.03 0q1.52 -1.5 3.03 0q1.52 1.5 3.03 0q1.52 -1.5 3.03 0q1.52 1.5 3.03 0q1.52 -1.5 3.03 0" stroke="#d5632b" stroke-width="3.2" fill="none"/></g><path d="M603.91 166.90L605.00 150.60L600.75 166.38" fill="none" stroke="#d5632b" stroke-width="1.0" stroke-linejoin="round"/><path d="M600.34 166.83L585.60 172.60L601.20 169.91" fill="none" stroke="#d5632b" stroke-width="1.0" stroke-linejoin="round"/><path d="M602.11 170.11L614.60 178.70L604.19 167.68" fill="none" stroke="#d5632b" stroke-width="1.0" stroke-linejoin="round"/><circle cx="602.1" cy="168" r="2.3" fill="#fff" fill-opacity="0.6" stroke="#d5632b" stroke-width="1.0"/><path d="M602.1 170.3V192.8" stroke="#d5632b" stroke-width="1.0" fill="none"/><path d="M593 193.6q1.52 1.5 3.03 0q1.52 -1.5 3.03 0q1.52 1.5 3.03 0q1.52 -1.5 3.03 0q1.52 1.5 3.03 0q1.52 -1.5 3.03 0" stroke="#d5632b" stroke-width="1.0" fill="none"/>

<g filter="url(#glow)" opacity="0.28"><path d="M562.28 227.86L563.00 219.50L561.09 227.67" fill="none" stroke="#169a7a" stroke-width="3.5" stroke-linejoin="round"/><path d="M560.96 227.80L553.20 229.80L561.17 228.99" fill="none" stroke="#169a7a" stroke-width="3.5" stroke-linejoin="round"/><path d="M561.67 229.10L567.30 232.60L562.39 228.15" fill="none" stroke="#169a7a" stroke-width="3.5" stroke-linejoin="round"/><circle cx="561.6" cy="228.3" r="0.9" fill="#fff" fill-opacity="0.6" stroke="#169a7a" stroke-width="3.5"/><path d="M561.6 229.20000000000002V240" stroke="#169a7a" stroke-width="3.5" fill="none"/><path d="M556.4 240H566.1" stroke="#169a7a" stroke-width="3.5" fill="none"/></g><path d="M562.28 227.86L563.00 219.50L561.09 227.67" fill="none" stroke="#169a7a" stroke-width="1.3" stroke-linejoin="round"/><path d="M560.96 227.80L553.20 229.80L561.17 228.99" fill="none" stroke="#169a7a" stroke-width="1.3" stroke-linejoin="round"/><path d="M561.67 229.10L567.30 232.60L562.39 228.15" fill="none" stroke="#169a7a" stroke-width="1.3" stroke-linejoin="round"/><circle cx="561.6" cy="228.3" r="0.9" fill="#fff" fill-opacity="0.6" stroke="#169a7a" stroke-width="1.3"/><path d="M561.6 229.20000000000002V240" stroke="#169a7a" stroke-width="1.3" fill="none"/><path d="M556.4 240H566.1" stroke="#169a7a" stroke-width="1.3" fill="none"/>
<g filter="url(#glow)" opacity="0.28"><path d="M444.05 336.91L445.20 325.80L442.09 336.53" fill="none" stroke="#2b2b2b" stroke-width="3.1" stroke-linejoin="round"/><path d="M441.76 336.88L431.10 340.90L442.30 338.81" fill="none" stroke="#2b2b2b" stroke-width="3.1" stroke-linejoin="round"/><path d="M443.02 338.94L452.30 344.70L444.22 337.34" fill="none" stroke="#2b2b2b" stroke-width="3.1" stroke-linejoin="round"/><circle cx="442.9" cy="337.6" r="1.5" fill="#fff" fill-opacity="0.6" stroke="#2b2b2b" stroke-width="3.1"/><path d="M442.9 339.1V354.7" stroke="#2b2b2b" stroke-width="3.1" fill="none"/><path d="M436.7 355.2H450" stroke="#2b2b2b" stroke-width="3.1" fill="none"/></g><path d="M444.05 336.91L445.20 325.80L442.09 336.53" fill="none" stroke="#2b2b2b" stroke-width="0.9" stroke-linejoin="round"/><path d="M441.76 336.88L431.10 340.90L442.30 338.81" fill="none" stroke="#2b2b2b" stroke-width="0.9" stroke-linejoin="round"/><path d="M443.02 338.94L452.30 344.70L444.22 337.34" fill="none" stroke="#2b2b2b" stroke-width="0.9" stroke-linejoin="round"/><circle cx="442.9" cy="337.6" r="1.5" fill="#fff" fill-opacity="0.6" stroke="#2b2b2b" stroke-width="0.9"/><path d="M442.9 339.1V354.7" stroke="#2b2b2b" stroke-width="0.9" fill="none"/><path d="M436.7 355.2H450" stroke="#2b2b2b" stroke-width="0.9" fill="none"/>

<g filter="url(#glow)" opacity="0.32"><g transform="translate(71.3 152.0) scale(0.98)" fill="none" stroke="#1b5b73" stroke-width="3.25" stroke-linecap="round"><path d="M1 2.5 C3 3.3 5 3.1 6.6 2.7 C8.1 2.3 8.3 0.7 7.1 0.5 C6.3 0.4 5.7 0.9 5.9 1.5"/><path d="M0.4 5.3 C3 4.5 6 4.6 8 5 C10 5.4 11.7 5.1 11.7 3.8 C11.7 2.7 10.4 2.4 10 3.1"/><path d="M1.7 7.5 C3.5 6.7 5.5 6.7 7 7.1 C8.4 7.5 8.4 8.6 7.4 8.75 C6.7 8.85 6.2 8.5 6.3 8.0"/></g></g><g transform="translate(71.3 152.0) scale(0.98)" fill="none" stroke="#1b5b73" stroke-width="1.05" stroke-linecap="round"><path d="M1 2.5 C3 3.3 5 3.1 6.6 2.7 C8.1 2.3 8.3 0.7 7.1 0.5 C6.3 0.4 5.7 0.9 5.9 1.5"/><path d="M0.4 5.3 C3 4.5 6 4.6 8 5 C10 5.4 11.7 5.1 11.7 3.8 C11.7 2.7 10.4 2.4 10 3.1"/><path d="M1.7 7.5 C3.5 6.7 5.5 6.7 7 7.1 C8.4 7.5 8.4 8.6 7.4 8.75 C6.7 8.85 6.2 8.5 6.3 8.0"/></g>

<g filter="url(#glow)" opacity="0.32"><g transform="translate(328.2 127.0) scale(0.95)" fill="none" stroke="#a63a25" stroke-width="3.25" stroke-linecap="round"><path d="M1 2.5 C3 3.3 5 3.1 6.6 2.7 C8.1 2.3 8.3 0.7 7.1 0.5 C6.3 0.4 5.7 0.9 5.9 1.5"/><path d="M0.4 5.3 C3 4.5 6 4.6 8 5 C10 5.4 11.7 5.1 11.7 3.8 C11.7 2.7 10.4 2.4 10 3.1"/><path d="M1.7 7.5 C3.5 6.7 5.5 6.7 7 7.1 C8.4 7.5 8.4 8.6 7.4 8.75 C6.7 8.85 6.2 8.5 6.3 8.0"/></g></g><g transform="translate(328.2 127.0) scale(0.95)" fill="none" stroke="#a63a25" stroke-width="1.05" stroke-linecap="round"><path d="M1 2.5 C3 3.3 5 3.1 6.6 2.7 C8.1 2.3 8.3 0.7 7.1 0.5 C6.3 0.4 5.7 0.9 5.9 1.5"/><path d="M0.4 5.3 C3 4.5 6 4.6 8 5 C10 5.4 11.7 5.1 11.7 3.8 C11.7 2.7 10.4 2.4 10 3.1"/><path d="M1.7 7.5 C3.5 6.7 5.5 6.7 7 7.1 C8.4 7.5 8.4 8.6 7.4 8.75 C6.7 8.85 6.2 8.5 6.3 8.0"/></g>

<g filter="url(#glow)" opacity="0.32"><g transform="translate(336.3 206.3) scale(0.98)" fill="none" stroke="#b3194f" stroke-width="3.25" stroke-linecap="round"><path d="M1 2.5 C3 3.3 5 3.1 6.6 2.7 C8.1 2.3 8.3 0.7 7.1 0.5 C6.3 0.4 5.7 0.9 5.9 1.5"/><path d="M0.4 5.3 C3 4.5 6 4.6 8 5 C10 5.4 11.7 5.1 11.7 3.8 C11.7 2.7 10.4 2.4 10 3.1"/><path d="M1.7 7.5 C3.5 6.7 5.5 6.7 7 7.1 C8.4 7.5 8.4 8.6 7.4 8.75 C6.7 8.85 6.2 8.5 6.3 8.0"/></g></g><g transform="translate(336.3 206.3) scale(0.98)" fill="none" stroke="#b3194f" stroke-width="1.05" stroke-linecap="round"><path d="M1 2.5 C3 3.3 5 3.1 6.6 2.7 C8.1 2.3 8.3 0.7 7.1 0.5 C6.3 0.4 5.7 0.9 5.9 1.5"/><path d="M0.4 5.3 C3 4.5 6 4.6 8 5 C10 5.4 11.7 5.1 11.7 3.8 C11.7 2.7 10.4 2.4 10 3.1"/><path d="M1.7 7.5 C3.5 6.7 5.5 6.7 7 7.1 C8.4 7.5 8.4 8.6 7.4 8.75 C6.7 8.85 6.2 8.5 6.3 8.0"/></g>

<g filter="url(#glow)" opacity="0.32"><g transform="translate(613.4 207.0) scale(0.96)" fill="none" stroke="#d5632b" stroke-width="3.25" stroke-linecap="round"><path d="M1 2.5 C3 3.3 5 3.1 6.6 2.7 C8.1 2.3 8.3 0.7 7.1 0.5 C6.3 0.4 5.7 0.9 5.9 1.5"/><path d="M0.4 5.3 C3 4.5 6 4.6 8 5 C10 5.4 11.7 5.1 11.7 3.8 C11.7 2.7 10.4 2.4 10 3.1"/><path d="M1.7 7.5 C3.5 6.7 5.5 6.7 7 7.1 C8.4 7.5 8.4 8.6 7.4 8.75 C6.7 8.85 6.2 8.5 6.3 8.0"/></g></g><g transform="translate(613.4 207.0) scale(0.96)" fill="none" stroke="#d5632b" stroke-width="1.05" stroke-linecap="round"><path d="M1 2.5 C3 3.3 5 3.1 6.6 2.7 C8.1 2.3 8.3 0.7 7.1 0.5 C6.3 0.4 5.7 0.9 5.9 1.5"/><path d="M0.4 5.3 C3 4.5 6 4.6 8 5 C10 5.4 11.7 5.1 11.7 3.8 C11.7 2.7 10.4 2.4 10 3.1"/><path d="M1.7 7.5 C3.5 6.7 5.5 6.7 7 7.1 C8.4 7.5 8.4 8.6 7.4 8.75 C6.7 8.85 6.2 8.5 6.3 8.0"/></g>

<g filter="url(#glow)" opacity="0.32"><g transform="translate(571.2 255.0) scale(1.0)" fill="none" stroke="#169a7a" stroke-width="3.25" stroke-linecap="round"><path d="M1 2.5 C3 3.3 5 3.1 6.6 2.7 C8.1 2.3 8.3 0.7 7.1 0.5 C6.3 0.4 5.7 0.9 5.9 1.5"/><path d="M0.4 5.3 C3 4.5 6 4.6 8 5 C10 5.4 11.7 5.1 11.7 3.8 C11.7 2.7 10.4 2.4 10 3.1"/><path d="M1.7 7.5 C3.5 6.7 5.5 6.7 7 7.1 C8.4 7.5 8.4 8.6 7.4 8.75 C6.7 8.85 6.2 8.5 6.3 8.0"/></g></g><g transform="translate(571.2 255.0) scale(1.0)" fill="none" stroke="#169a7a" stroke-width="1.05" stroke-linecap="round"><path d="M1 2.5 C3 3.3 5 3.1 6.6 2.7 C8.1 2.3 8.3 0.7 7.1 0.5 C6.3 0.4 5.7 0.9 5.9 1.5"/><path d="M0.4 5.3 C3 4.5 6 4.6 8 5 C10 5.4 11.7 5.1 11.7 3.8 C11.7 2.7 10.4 2.4 10 3.1"/><path d="M1.7 7.5 C3.5 6.7 5.5 6.7 7 7.1 C8.4 7.5 8.4 8.6 7.4 8.75 C6.7 8.85 6.2 8.5 6.3 8.0"/></g>
<g filter="url(#glow)" opacity="0.32"><g transform="translate(455.6 369.3) scale(0.8)" fill="none" stroke="#2b2b2b" stroke-width="3.4000000000000004" stroke-linecap="round"><path d="M1 2.5 C3 3.3 5 3.1 6.6 2.7 C8.1 2.3 8.3 0.7 7.1 0.5 C6.3 0.4 5.7 0.9 5.9 1.5"/><path d="M0.4 5.3 C3 4.5 6 4.6 8 5 C10 5.4 11.7 5.1 11.7 3.8 C11.7 2.7 10.4 2.4 10 3.1"/><path d="M1.7 7.5 C3.5 6.7 5.5 6.7 7 7.1 C8.4 7.5 8.4 8.6 7.4 8.75 C6.7 8.85 6.2 8.5 6.3 8.0"/></g></g><g transform="translate(455.6 369.3) scale(0.8)" fill="none" stroke="#2b2b2b" stroke-width="1.2" stroke-linecap="round"><path d="M1 2.5 C3 3.3 5 3.1 6.6 2.7 C8.1 2.3 8.3 0.7 7.1 0.5 C6.3 0.4 5.7 0.9 5.9 1.5"/><path d="M0.4 5.3 C3 4.5 6 4.6 8 5 C10 5.4 11.7 5.1 11.7 3.8 C11.7 2.7 10.4 2.4 10 3.1"/><path d="M1.7 7.5 C3.5 6.7 5.5 6.7 7 7.1 C8.4 7.5 8.4 8.6 7.4 8.75 C6.7 8.85 6.2 8.5 6.3 8.0"/></g>
<path d="M442.7 358 V361.5 Q442.7 364 445.5 364 H450.5" fill="none" stroke="#2b2b2b" stroke-width="0.8"/><path d="M450 362.4 L453.2 364 L450 365.6 Z" fill="#2b2b2b"/>
</svg>
<div class="t b" id="l0" style="left:71px;top:130.62px;font-size:11.2px;color:#1b5b73;transform:scaleX(1.0096);">NORTH AMERICA</div>
<div class="t" id="l1" style="left:71px;top:141.63px;font-size:10px;color:#1b5b73;transform:scaleX(0.9788);">41 MW</div>
<div class="t" id="l2" style="left:86.9px;top:151.94px;font-size:10px;color:#1b5b73;transform:scaleX(1.0828);">8.7m/s</div>
<div class="t b" id="l3" style="left:328.2px;top:92.02px;font-size:11.2px;color:#a63a25;transform:scaleX(1.0047);">WESTERN EUROPE</div>
<div class="t b" id="l4" style="left:328.4px;top:103.32px;font-size:11.2px;color:#a63a25;transform:scaleX(1.0204);">(NORTH)</div>
<div class="t" id="l5" style="left:328.4px;top:116.94px;font-size:10px;color:#a63a25;transform:scaleX(1.0305);">28,561 MW</div>
<div class="t i" id="l6" style="left:342.3px;top:127.03px;font-size:10px;color:#c07c6e;transform:scaleX(1.0261);">9.1m/s</div>
<div class="t b r" id="l7" style="right:326.1px;top:171.72px;font-size:11.2px;color:#b3194f;transform:scaleX(1.0047);">WESTERN EUROPE</div>
<div class="t b r" id="l8" style="right:325.8px;top:183.22px;font-size:11.2px;color:#b3194f;transform:scaleX(1.0127);">(SOUTH)</div>
<div class="t r" id="l9" style="right:326.2px;top:195.73px;font-size:10px;color:#b3194f;transform:scaleX(1.0672);">86 MW</div>
<div class="t i r" id="l10" style="right:340.4px;top:205.84px;font-size:10px;color:#c9588a;transform:scaleX(1.1627);">6.5m/s</div>
<div class="t b" id="l11" style="left:613.3px;top:184.42px;font-size:11.2px;color:#d5632b;transform:scaleX(0.9753);">EAST ASIA</div>
<div class="t" id="l12" style="left:613.3px;top:196.03px;font-size:10px;color:#d5632b;transform:scaleX(0.9785);">8,737 MW</div>
<div class="t i" id="l13" style="left:627.8px;top:206.13px;font-size:10px;color:#e39468;transform:scaleX(1.0328);">7.8m/s</div>
<div class="t b" id="l14" style="left:570.8px;top:233.12px;font-size:11.2px;color:#169a7a;transform:scaleX(1.0069);">SOUTHEAST ASIA</div>
<div class="t" id="l15" style="left:570.8px;top:244.63px;font-size:10px;color:#169a7a;transform:scaleX(1.0340);">532 MW</div>
<div class="t i" id="l16" style="left:586.3px;top:254.93px;font-size:10px;color:#55b59c;transform:scaleX(1.0594);">5.7m/s</div>
<div class="t b" id="l17" style="left:455.6px;top:343.56px;font-size:12.8px;color:#2b2b2b;transform:scaleX(0.9389);">REGION</div>
<div class="t" id="l18" style="left:455.6px;top:356.86px;font-size:10.8px;color:#2b2b2b;transform:scaleX(1.0071);">Capacity (MW)</div>
<div class="t i" id="l19" style="left:467.4px;top:367.61px;font-size:10.5px;color:#6e6e6e;transform:scaleX(1.0267);">Weighted average</div>
<div class="t i" id="l20" style="left:455.6px;top:378.11px;font-size:10.5px;color:#6e6e6e;transform:scaleX(1.0444);">wind speed (m/s)</div>
<div class="t" id="l21" style="left:417.8px;top:358.29px;font-size:5.8px;color:#2b2b2b;transform:scaleX(1.0157);">sized by</div>
<div class="foot" id="f0" style="top:396.72px;transform:scaleX(0.9819);">As of Oct. 21, 2022.</div>
<div class="foot" id="f1" style="top:407.82px;transform:scaleX(1.0029);"><span style="font-size:6px;position:relative;top:-3.5px">1</span> Operating in 2021.</div>
<div class="foot" id="f2" style="top:418.82px;transform:scaleX(1.0351);">Map credit: Ciaralou Agpalo Palicpic &amp; Joe Felizadio.</div>
<div class="foot" id="f3" style="top:429.92px;transform:scaleX(1.0381);">Sources: European Centre for Medium-Range Weather Forecasts; S&amp;P Global Market Intelligence analysis.</div>
<div class="foot" id="f4" style="top:440.82px;transform:scaleX(1.0435);">2000-2021 averages weighted by operating capacity.</div>
<div class="foot" id="f5" style="top:451.82px;transform:scaleX(1.0050);">© 2022 S&amp;P Global.</div>
</body></html>
